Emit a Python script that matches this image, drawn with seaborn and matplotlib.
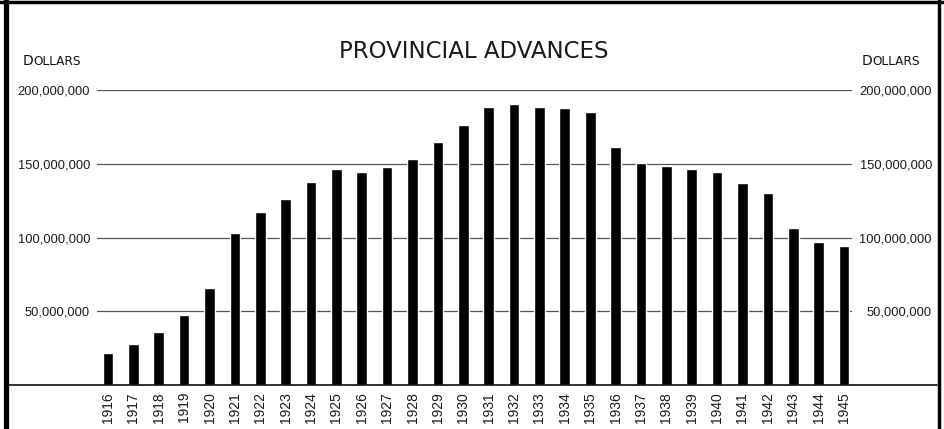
import matplotlib
matplotlib.use("Agg")
import matplotlib.pyplot as plt
import seaborn as sns
import pandas as pd
from matplotlib.lines import Line2D

# ---- data ----
years = ["1916", "1917", "1918", "1919", "1920", "1921", "1922", "1923", "1924", "1925",
         "1926", "1927", "1928", "1929", "1930", "1931", "1932", "1933", "1934", "1935",
         "1936", "1937", "1938", "1939", "1940", "1941", "1942", "1943", "1944", "1945"]
advances_millions = [21.7, 27.8, 35.9, 47.5, 65.8, 103.0, 117.3, 125.8, 137.6, 146.4,
                     144.4, 147.8, 153.2, 164.7, 176.3, 188.5, 190.5, 188.5, 187.8, 185.4,
                     161.4, 150.5, 148.5, 146.4, 144.4, 137.0, 130.2, 106.4, 97.0, 94.2]
tick_values = [50_000_000, 100_000_000, 150_000_000, 200_000_000]
tick_labels = ["50,000,000", "100,000,000", "150,000,000", "200,000,000"]
title = "PROVINCIAL ADVANCES"
unit_first, unit_rest = "D", "OLLARS"

sns.set_style("white")
plt.rcParams["font.family"] = ["Liberation Sans", "DejaVu Sans"]

W, H = 944, 429
fig = plt.figure(figsize=(W / 100, H / 100), dpi=100)
fig.patch.set_facecolor("white")

def fx(px):
    return px / W

def fy(py):
    return 1 - py / H

ax = fig.add_axes([fx(97), 44 / H, 755 / W, 295 / H])
df = pd.DataFrame({"year": years, "advances": [v * 1e6 for v in advances_millions]})
sns.barplot(data=df, x="year", y="advances", color="black", saturation=1,
            width=0.42, ax=ax, zorder=3)
ax.set_xlim(-0.433, 29.316)
ax.set_ylim(0, 200_000_000)
for s in ax.spines.values():
    s.set_visible(False)
ax.set_xlabel("")
ax.set_ylabel("")

ax.set_yticks(tick_values, tick_labels)
ax.grid(axis="y", color="#555555", linewidth=0.9)
ax.grid(axis="x", visible=False)
ax.set_axisbelow(True)
ax.tick_params(axis="y", length=0, pad=5, labelsize=9.3, labelcolor="#1a1a1a")
ax.tick_params(axis="x", length=0, pad=5, labelsize=10, labelrotation=90, labelcolor="#1a1a1a")

# right-hand labels
ax2 = ax.twinx()
ax2.set_ylim(ax.get_ylim())
ax2.set_yticks(tick_values, tick_labels)
for s in ax2.spines.values():
    s.set_visible(False)
ax2.tick_params(axis="y", length=0, pad=57.6, labelsize=9.3, labelcolor="#1a1a1a")
plt.setp(ax2.get_yticklabels(), ha="right")
ax2.grid(False)

# baseline spanning the full width
ax.axhline(0, xmin=(8 - 97) / 755, xmax=(937 - 97) / 755, color="#111111",
           linewidth=1.2, clip_on=False, zorder=4)

# title
fig.text(fx(474), fy(58), title, ha="center", va="baseline", fontsize=16.5,
         family="DejaVu Sans", color="#1a1a1a")

# "DOLLARS" in small caps on both sides
for x0 in (23, 862):
    fig.text(fx(x0), fy(65), unit_first, ha="left", va="baseline", fontsize=10,
             family="DejaVu Sans", color="#111111")
    fig.text(fx(x0 + 10.5), fy(65), unit_rest, ha="left", va="baseline", fontsize=8.7,
             family="DejaVu Sans", color="#111111")

# page frame
fig.add_artist(Line2D([fx(5.5), fx(5.5)], [0, 1], color="black", linewidth=3.8))
fig.add_artist(Line2D([0, 1], [fy(1.5), fy(1.5)], color="black", linewidth=2.5))
fig.add_artist(Line2D([fx(938.5), fx(938.5)], [0, 1], color="black", linewidth=2.5))

fig.savefig("out.png", dpi=100)
